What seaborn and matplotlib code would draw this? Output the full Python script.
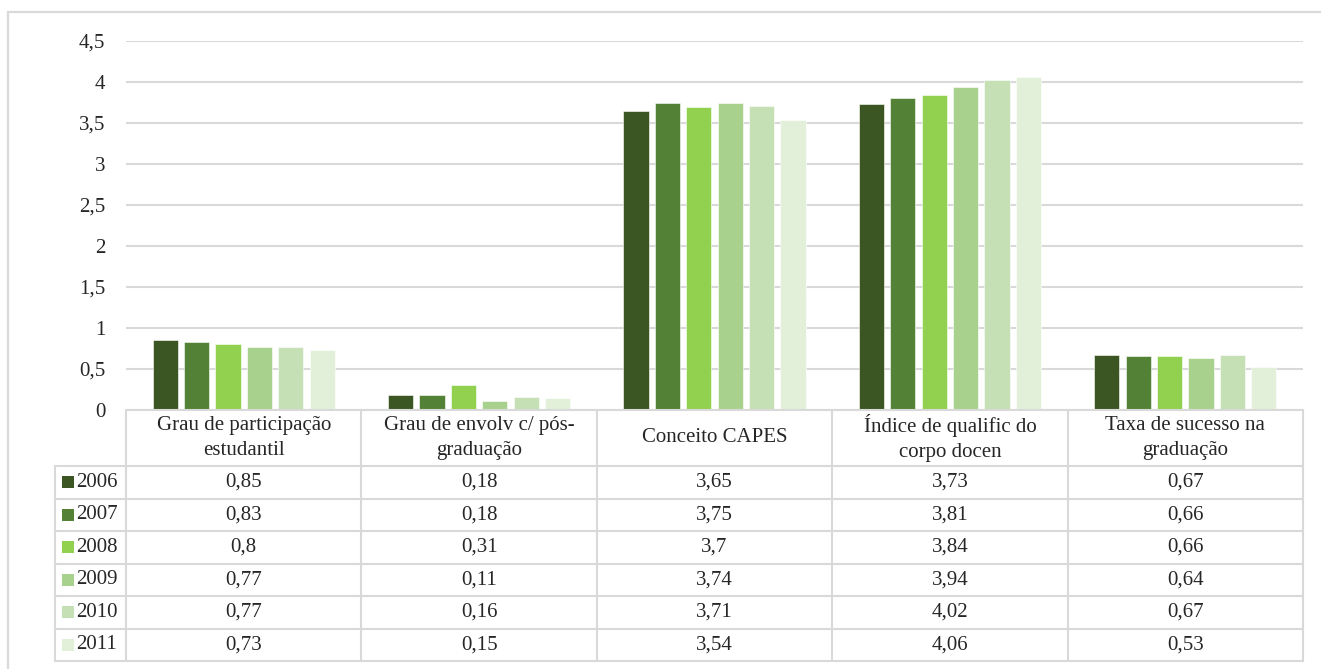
import matplotlib
matplotlib.use("Agg")
import matplotlib.pyplot as plt
from matplotlib.patches import Rectangle
import seaborn as sns
import pandas as pd

categories = [
    "Grau de participação\nestudantil",
    "Grau de envolv c/ pós-\ngraduação",
    "Conceito CAPES",
    "Índice de qualific do\ncorpo docen",
    "Taxa de sucesso na\ngraduação",
]
years = ["2006", "2007", "2008", "2009", "2010", "2011"]
v2006 = [0.85, 0.18, 3.65, 3.73, 0.67]
v2007 = [0.83, 0.18, 3.75, 3.81, 0.66]
v2008 = [0.80, 0.31, 3.70, 3.84, 0.66]
v2009 = [0.77, 0.11, 3.74, 3.94, 0.64]
v2010 = [0.77, 0.16, 3.71, 4.02, 0.67]
v2011 = [0.73, 0.15, 3.54, 4.06, 0.53]
series = [v2006, v2007, v2008, v2009, v2010, v2011]
colors = ["#3B5623", "#538135", "#92D050", "#A9D18E", "#C5E0B4", "#E2F0D9"]
yticks = [0, 0.5, 1, 1.5, 2, 2.5, 3, 3.5, 4, 4.5]

rows = []
for y, vals in zip(years, series):
    for c, v in zip(categories, vals):
        rows.append({"categoria": c, "ano": y, "valor": v})
df = pd.DataFrame(rows)

sns.set_theme(style="white")
plt.rcParams["font.family"] = ["Liberation Serif", "DejaVu Serif"]

W, H = 1321, 669
fig = plt.figure(figsize=(W / 100, H / 100), dpi=100)
fig.patch.set_facecolor("white")

grid_c = "#D9D9D9"
txt_c = "#262626"
fs = 15

# outer chart frame
fig.patches.append(Rectangle((8 / W, -0.05), 1.2, 1 - 12 / H + 0.05,
                             transform=fig.transFigure, fill=False,
                             edgecolor=grid_c, linewidth=1.6))

x0, x1 = 126, 1303
y_top, y_zero, y_tab = 41, 410, 661
ax = fig.add_axes([x0 / W, 1 - y_zero / H, (x1 - x0) / W, (y_zero - y_top) / H])
sns.barplot(data=df, x="categoria", y="valor", hue="ano", order=categories,
            hue_order=years, palette=colors, saturation=1, width=0.8, gap=0.2,
            edgecolor="white", linewidth=0.4, legend=False, ax=ax)
ax.set_xlim(-0.5, len(categories) - 0.5)
ax.set_ylim(0, 4.5)
ax.set_yticks(yticks)
ax.set_yticklabels([f"{t:g}".replace(".", ",") for t in yticks],
                   fontsize=fs, color=txt_c)
ax.tick_params(axis="y", length=0, pad=15)
ax.set_xticks([])
ax.set_xlabel("")
ax.set_ylabel("")
ax.yaxis.grid(True, color=grid_c, linewidth=1.5)
ax.set_axisbelow(True)
for s in ax.spines.values():
    s.set_visible(False)

# data table beneath the plot
header_h = 56 / 32.5
n_rows = len(years)
tab = fig.add_axes([x0 / W, 1 - y_tab / H, (x1 - x0) / W, (y_tab - y_zero) / H])
tab.set_xlim(-0.5, len(categories) - 0.5)
tab.set_ylim(header_h + n_rows, 0)
tab.axis("off")

leg_left = -0.5 - (x0 - 55) / (x1 - x0) * len(categories)
lw = 1.5
# horizontal lines
tab.plot([-0.5, len(categories) - 0.5], [0, 0], color=grid_c, lw=lw, clip_on=False)
for i in range(n_rows + 1):
    yy = header_h + i
    tab.plot([leg_left, len(categories) - 0.5], [yy, yy], color=grid_c, lw=lw,
             clip_on=False)
# vertical lines
for j in range(len(categories) + 1):
    xx = -0.5 + j
    tab.plot([xx, xx], [0, header_h + n_rows], color=grid_c, lw=lw, clip_on=False)
tab.plot([leg_left, leg_left], [header_h, header_h + n_rows], color=grid_c, lw=lw,
         clip_on=False)

for j, c in enumerate(categories):
    tab.text(j, header_h / 2, c, ha="center", va="center", fontsize=fs,
             color=txt_c, linespacing=1.45)

px = len(categories) / (x1 - x0)
sq_w = 12 * px
sq_h = 12 / 32.5
for i, (y, vals, col) in enumerate(zip(years, series, colors)):
    yc = header_h + i + 0.5
    tab.add_patch(Rectangle((leg_left + 7 * px, yc - sq_h / 2),
                            sq_w, sq_h, facecolor=col, edgecolor="none",
                            clip_on=False))
    tab.text(leg_left + 21 * px, yc, y, ha="left",
             va="center", fontsize=fs, color=txt_c)
    for j, v in enumerate(vals):
        tab.text(j, yc, f"{v:g}".replace(".", ","), ha="center", va="center",
                 fontsize=fs, color=txt_c)

fig.savefig("out.png", dpi=100, facecolor="white")
